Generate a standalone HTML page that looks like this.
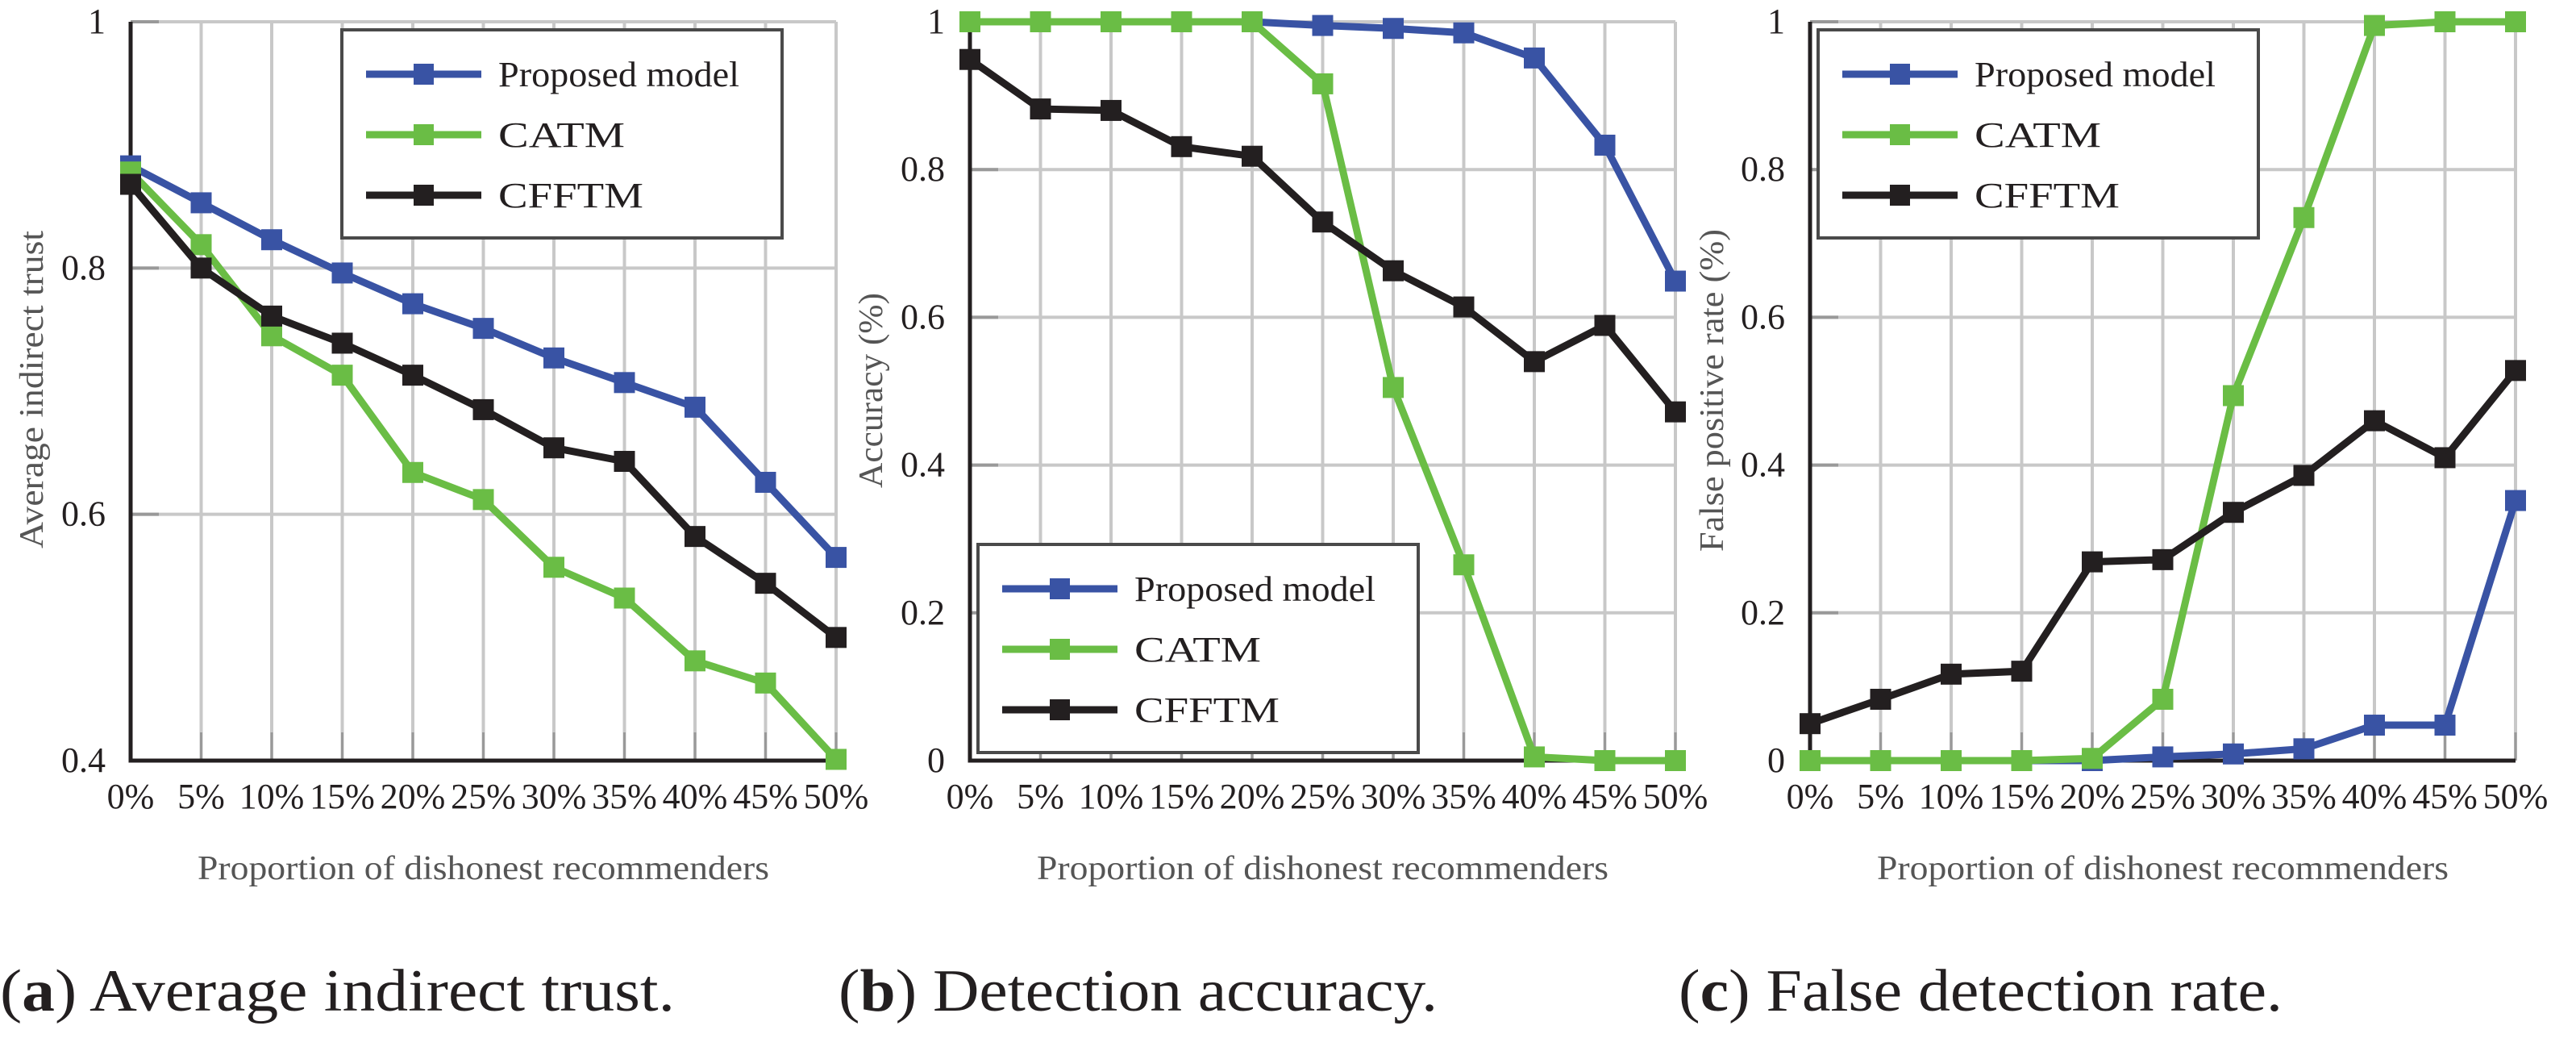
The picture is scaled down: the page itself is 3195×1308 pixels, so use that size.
<!DOCTYPE html>
<html><head><meta charset="utf-8"><style>
html,body{margin:0;padding:0;background:#fff;}
svg{display:block;}
svg text{font-family:"Liberation Serif","DejaVu Serif","Noto Serif CJK SC",serif;}
</style></head><body>
<svg id="fig" width="3195" height="1308" viewBox="0 0 3195 1308" xmlns="http://www.w3.org/2000/svg">
<rect width="3195" height="1308" fill="#fff"/>
<text x="0" y="1253" font-size="74" fill="#231f20" textLength="837" lengthAdjust="spacingAndGlyphs">(<tspan font-weight="bold">a</tspan>) Average indirect trust.</text>
<text x="1040" y="1253" font-size="74" fill="#231f20" textLength="743" lengthAdjust="spacingAndGlyphs">(<tspan font-weight="bold">b</tspan>) Detection accuracy.</text>
<text x="2082" y="1253" font-size="74" fill="#231f20" textLength="749" lengthAdjust="spacingAndGlyphs">(<tspan font-weight="bold">c</tspan>) False detection rate.</text>
</svg>
<script>
const categories = ["0%","5%","10%","15%","20%","25%","30%","35%","40%","45%","50%"];
const seriesNames = ["Proposed model","CATM","CFFTM"];
const trustProposed = [0.883,0.853,0.823,0.796,0.771,0.751,0.727,0.707,0.687,0.626,0.565];
const trustCATM     = [0.878,0.819,0.745,0.713,0.634,0.612,0.557,0.532,0.481,0.463,0.401];
const trustCFFTM    = [0.868,0.800,0.761,0.739,0.713,0.685,0.654,0.643,0.582,0.544,0.500];
const accProposed = [1,1,1,1,1.0,0.995,0.991,0.985,0.951,0.833,0.649];
const accCATM     = [1,1,1,1,1,0.916,0.505,0.265,0.005,0.0,0.0];
const accCFFTM    = [0.949,0.882,0.880,0.831,0.818,0.729,0.663,0.614,0.540,0.589,0.472];
const fprProposed = [0,0,0,0,0,0.005,0.009,0.016,0.048,0.048,0.352];
const fprCATM     = [0,0,0,0,0.003,0.083,0.494,0.735,0.995,1.0,1.0];
const fprCFFTM    = [0.050,0.083,0.117,0.121,0.269,0.272,0.336,0.386,0.460,0.410,0.528];
const ticksA = [0.4,0.6,0.8,1];
const ticksBC = [0,0.2,0.4,0.6,0.8,1];
const tickLabelsA = ["0.4","0.6","0.8","1"];
const tickLabelsBC = ["0","0.2","0.4","0.6","0.8","1"];

const NS="http://www.w3.org/2000/svg";
const svg=document.getElementById('fig');
const colors=["#3953a4","#6abd45","#231f20"];
const legendWidths=[299,157,180];
function mk(tag,attrs,parent){const e=document.createElementNS(NS,tag);for(const k in attrs)e.setAttribute(k,attrs[k]);(parent||svg).appendChild(e);return e;}

function chart(cfg){
  const g=mk('g',{});
  
  
  const L=cfg.left,R=cfg.left+875,T=27,B=943;
  const x=i=>L+(R-L)*i/(categories.length-1);
  const y=v=>B-(B-T)*(v-cfg.min)/(cfg.max-cfg.min);
  cfg.ticks.forEach((t,i)=>{
    const gl=mk('line',{x1:L,x2:R,y1:y(t),y2:y(t),stroke:"#c8c8c8","stroke-width":4},g);
    
    
    const tk=mk('line',{x1:L,x2:L+35,y1:y(t),y2:y(t),stroke:"#999","stroke-width":4},g);
    
    
    const tl=mk('text',{x:L-31,y:y(t)+14,"font-size":44,fill:"#231f20","text-anchor":"end"},g);
    tl.textContent=cfg.tickLabels[i];
    
    
  });
  categories.forEach((c,i)=>{
    if(i>0){
      const vl=mk('line',{x1:x(i),x2:x(i),y1:T,y2:B,stroke:"#c8c8c8","stroke-width":4},g);
      
      
      const tk=mk('line',{x1:x(i),x2:x(i),y1:B-35,y2:B,stroke:"#999","stroke-width":3},g);
      
      
    }
    const tl=mk('text',{x:x(i),y:1002,"font-size":44,fill:"#231f20","text-anchor":"middle"},g);
    tl.textContent=c;
    
    
  });
  const ax=mk('path',{d:`M${L} ${T} L${L} ${B} L${R} ${B}`,fill:"none",stroke:"#231f20","stroke-width":5},g);
  
  
  const xt=mk('text',{x:(L+R)/2-709/2,y:1090,"font-size":42,fill:"#555",textLength:709,lengthAdjust:"spacingAndGlyphs"},g);
  xt.textContent="Proportion of dishonest recommenders";
  
  
  const yt=mk('text',{x:-cfg.ytLen/2,y:0,"font-size":42,fill:"#555",textLength:cfg.ytLen,lengthAdjust:"spacingAndGlyphs",transform:`translate(${cfg.ytx},${cfg.ytc}) rotate(-90)`},g);
  yt.textContent=cfg.ytitle;
  
  
  const lg=mk('g',{},g);
  
  
  mk('rect',{x:cfg.lx,y:cfg.ly,width:546,height:258,fill:"#fff",stroke:"#4a4a4a","stroke-width":4},lg);
  cfg.series.forEach((s,k)=>{
    const sg=mk('g',{},g);
    
    
    const pts=s.map((v,i)=>x(i)+','+y(v)).join(' ');
    mk('polyline',{points:pts,fill:"none",stroke:colors[k],"stroke-width":9,"stroke-linejoin":"miter"},sg);
    s.forEach((v,i)=>{
      const m=mk('rect',{x:x(i)-13,y:y(v)-13,width:26,height:26,fill:colors[k]},sg);
      
      
    });
  });
  g.appendChild(lg);
  seriesNames.forEach((n,k)=>{
    const yy=cfg.ly+55+k*75;
    const e=mk('g',{},lg);
    
    
    mk('line',{x1:cfg.lx+30,x2:cfg.lx+173,y1:yy,y2:yy,stroke:colors[k],"stroke-width":9},e);
    mk('rect',{x:cfg.lx+89,y:yy-13,width:25,height:26,fill:colors[k]},e);
    const t=mk('text',{x:cfg.lx+194,y:yy+15,"font-size":44,fill:"#231f20",textLength:legendWidths[k],lengthAdjust:"spacingAndGlyphs"},e);
    t.textContent=n;
  });
}
chart({name:'chart-average-indirect-trust',left:162,min:0.4,max:1,ticks:ticksA,tickLabels:tickLabelsA,ytitle:"Average indirect trust",ytx:53,ytc:483,ytLen:394,lx:424,ly:37,series:[trustProposed,trustCATM,trustCFFTM]});
chart({name:'chart-detection-accuracy',left:1203,min:0,max:1,ticks:ticksBC,tickLabels:tickLabelsBC,ytitle:"Accuracy (%)",ytx:1094,ytc:484,ytLen:242,lx:1213,ly:675,series:[accProposed,accCATM,accCFFTM]});
chart({name:'chart-false-detection-rate',left:2245,min:0,max:1,ticks:ticksBC,tickLabels:tickLabelsBC,ytitle:"False positive rate (%)",ytx:2137,ytc:484,ytLen:400,lx:2255,ly:37,series:[fprProposed,fprCATM,fprCFFTM]});
</script>
</body></html>
